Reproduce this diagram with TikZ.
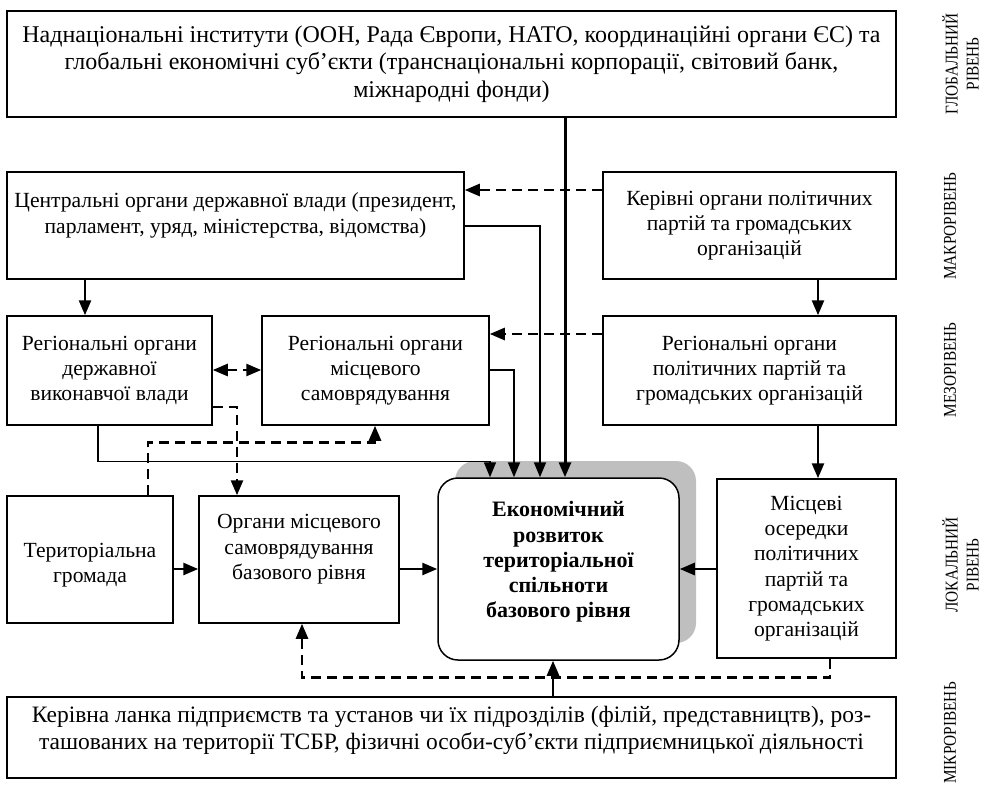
\documentclass[tikz,border=0pt]{standalone}
\usepackage{fontspec}
\setmainfont{Liberation Serif}
\newfontfamily\levelfont{Liberation Serif}[FakeStretch=0.85]
\usetikzlibrary{arrows.meta,shadows}

\begin{document}
\begin{tikzpicture}[
x=0.5pt, y=-0.5pt,
>={Triangle[length=7.5pt,width=6pt]},
boxnode/.style={draw=black, line width=0.75pt, align=center, inner sep=2pt, font=\fontsize{10.8}{12.65}\selectfont},
widenode/.style={boxnode, minimum width=444.5pt, font=\fontsize{12}{13.8}\selectfont},
econnode/.style={boxnode, rounded corners=10pt, fill=white,
  drop shadow={shadow xshift=8.5pt, shadow yshift=8.5pt, fill=black!25, opacity=1, draw=none}},
levelnode/.style={rotate=90, align=center, font=\levelfont\fontsize{9}{10.5}\selectfont},
arrowline/.style={->, line width=1.3pt},
thinline/.style={->, line width=0.9pt},
dashline/.style={->, line width=1.3pt, dash pattern=on 5pt off 3pt},
]
\useasboundingbox (0,0) rectangle (982,789);
%Nodes
\node[widenode, minimum height=53pt] at (451.5,64) (glob)
  {Наднаціональні інститути (ООН, Рада Європи, НАТО, координаційні органи ЄС) та\\
   глобальні економічні суб’єкти (транснаціональні корпорації, світовий банк,\\
   міжнародні фонди)};
\node[boxnode, minimum width=228.5pt, minimum height=53.5pt] at (235.5,225.5) (central)
  {Центральні органи державної влади (президент,\\ парламент, уряд, міністерства, відомства)\\ \mbox{}};
\node[boxnode, minimum width=146.5pt, minimum height=53.5pt] at (749.5,225.5) (partylead)
  {Керівні органи політичних\\ партій та громадських\\ організацій};
\node[boxnode, minimum width=102.5pt, minimum height=54.5pt] at (109.5,370.5) (regstate)
  {Регіональні органи\\ державної\\ виконавчої влади};
\node[boxnode, minimum width=113.5pt, minimum height=54.5pt] at (375.5,370.5) (regself)
  {Регіональні органи\\ місцевого\\ самоврядування};
\node[boxnode, minimum width=146.5pt, minimum height=54.5pt] at (749.5,370.5) (regparty)
  {Регіональні органи\\ політичних партій та\\ громадських організацій};
\node[boxnode, minimum width=83pt, minimum height=63.5pt] at (90,559.5) (terr)
  {\mbox{}\\ Територіальна\\ громада};
\node[boxnode, minimum width=100pt, minimum height=63.5pt] at (299,559.5) (localgov)
  {Органи місцевого\\ самоврядування\\ базового рівня\\ \mbox{}};
\node[econnode, minimum width=120.5pt, minimum height=91pt] at (558.5,569) (econ) {};
\node[align=center, font=\fontsize{11}{12.65}\selectfont\bfseries] at (558.5,562) (econtext)
  {Економічний\\ розвиток\\ територіальної\\ спільноти\\ базового рівня};
\node[boxnode, minimum width=89.5pt, minimum height=89.5pt] at (806.5,568.5) (cells)
  {Місцеві\\ осередки\\ політичних\\ партій та\\ громадських\\ організацій};
\node[widenode, minimum height=40.5pt, font=\fontsize{11.75}{13.8}\selectfont] at (451.5,737.5) (firms)
  {Керівна ланка підприємств та установ чи їх підрозділів (філій, представництв), роз-\\
   ташованих на території ТСБР, фізичні особи-суб’єкти підприємницької діяльності\\[-4pt] \mbox{}};
%Levels
\node[levelnode] at (960.5,64) (lglob) {ГЛОБАЛЬНИЙ\\ РІВЕНЬ};
\node[levelnode] at (950,226) (lmacro) {МАКРОРІВЕНЬ};
\node[levelnode] at (950,370) (lmeso) {МЕЗОРІВЕНЬ};
\node[levelnode] at (960.5,565) (llocal) {ЛОКАЛЬНИЙ\\ РІВЕНЬ};
\node[levelnode] at (950,733) (lmicro) {МІКРОРІВЕНЬ};
%Lines
\draw[arrowline, line width=1.5pt] (glob.south -| 565,0) -- (econ.north -| 565,0);
\draw[thinline] (central.east |- 0,226) -| (econ.north -| 540,0);
\draw[thinline] (regself.east |- 0,370) -| (econ.north -| 514,0);
\draw[thinline, line width=0.7pt] (regstate.south -| 98,0) -- ++(0,36) -| (econ.north -| 490,0);
\draw[dashline] (partylead.west |- 0,190) -- (central.east |- 0,190);
\draw[dashline] (regparty.west |- 0,334) -- (regself.east |- 0,334);
\draw[arrowline] (central.south -| 85,0) -- (regstate.north -| 85,0);
\draw[arrowline] (partylead.south -| 818,0) -- (regparty.north -| 818,0);
\draw[arrowline] (regparty.south -| 818,0) -- (cells.north -| 818,0);
\draw[dashline, <->] (regstate.east |- 0,370) -- (regself.west |- 0,370);
\draw[dashline] (regstate.east |- 0,407) -| (localgov.north -| 237,0);
\draw[dashline] (terr.north -| 148,0) -- ++(0,-53) -| (regself.south -| 375,0);
\draw[arrowline] (terr.east |- 0,569) -- (localgov.west |- 0,569);
\draw[arrowline] (localgov.east |- 0,569) -- (econ.west |- 0,569);
\draw[arrowline] (cells.west |- 0,569) -- (econ.east |- 0,569);
\draw[arrowline] (firms.north -| 553,0) -- (econ.south -| 553,0);
\draw[dashline] (cells.south -| 830,0) -- ++(0,19) -| (localgov.south -| 302,0);
\end{tikzpicture}
\end{document}
